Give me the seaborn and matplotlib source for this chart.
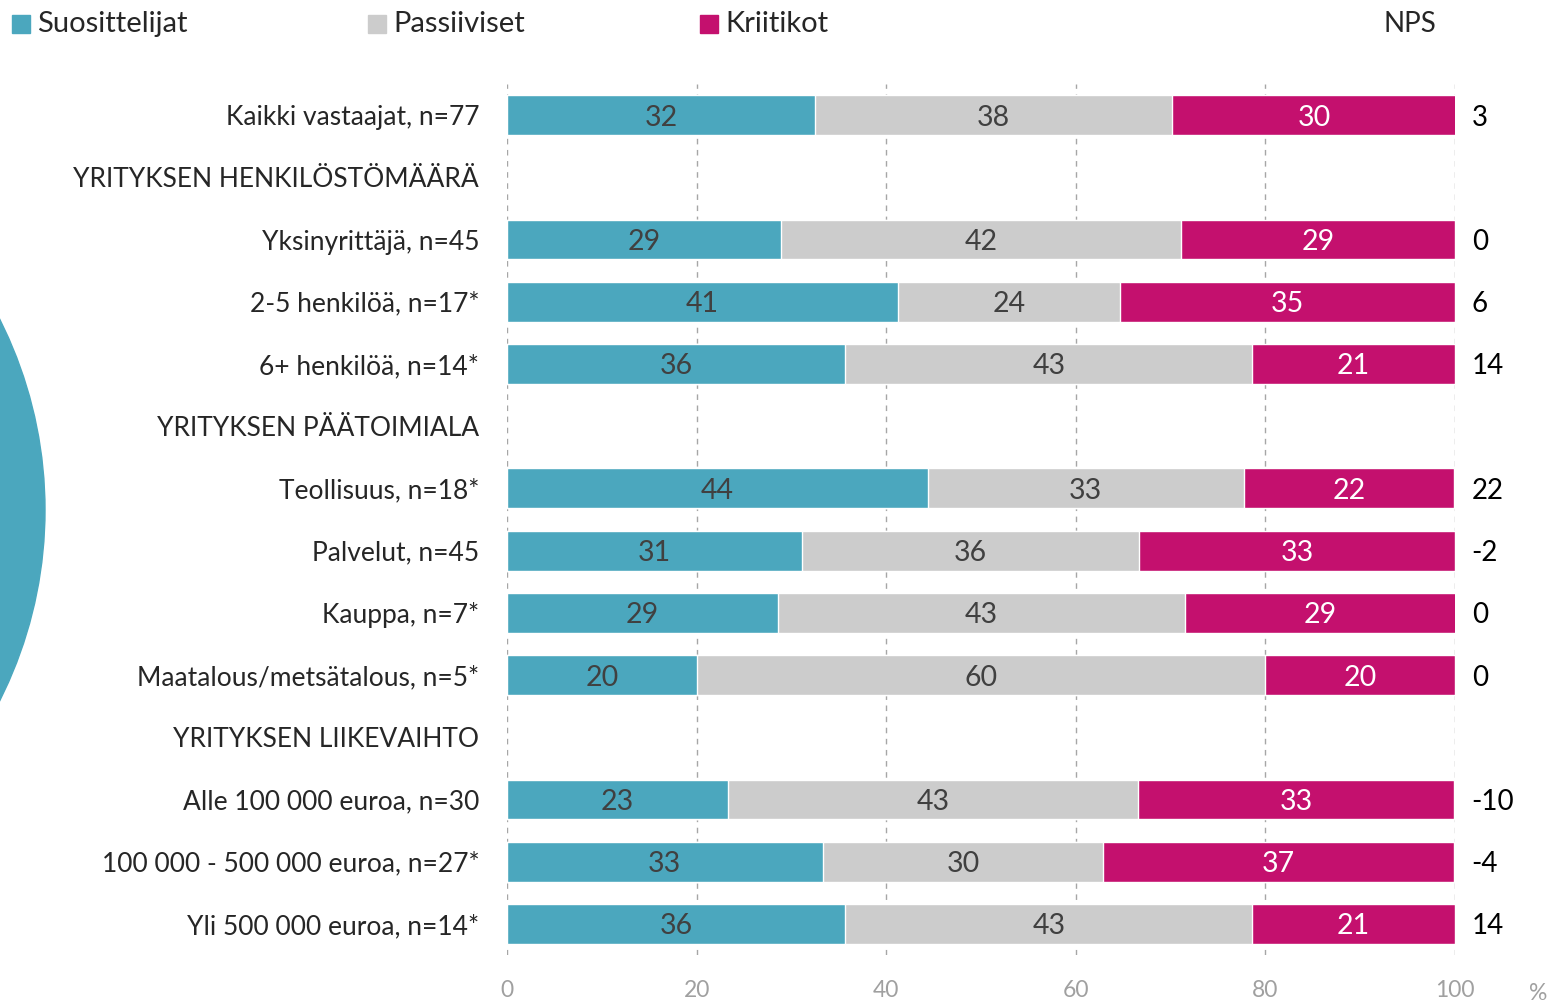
import numpy as np
import pandas as pd
import seaborn as sns
import matplotlib
matplotlib.use("Agg")
import matplotlib.pyplot as plt
from matplotlib.patches import Circle, Rectangle
from matplotlib.transforms import IdentityTransform

## Data
rows = [
    "Kaikki vastaajat, n=77",
    "YRITYKSEN HENKILÖSTÖMÄÄRÄ",
    "Yksinyrittäjä, n=45",
    "2-5 henkilöä, n=17*",
    "6+ henkilöä, n=14*",
    "YRITYKSEN PÄÄTOIMIALA",
    "Teollisuus, n=18*",
    "Palvelut, n=45",
    "Kauppa, n=7*",
    "Maatalous/metsätalous, n=5*",
    "YRITYKSEN LIIKEVAIHTO",
    "Alle 100 000 euroa, n=30",
    "100 000 - 500 000 euroa, n=27*",
    "Yli 500 000 euroa, n=14*",
]
bar_rows = [r for r in rows if "n=" in r]
promoters = [32.5, 28.9, 41.2, 35.7, 44.4, 31.1, 28.6, 20.0, 23.3, 33.3, 35.7]
passives = [37.7, 42.2, 23.5, 42.9, 33.3, 35.6, 42.9, 60.0, 43.3, 29.6, 42.9]
critics = [29.9, 28.9, 35.3, 21.4, 22.2, 33.3, 28.6, 20.0, 33.3, 37.0, 21.4]
nps = [3, 0, 6, 14, 22, -2, 0, 0, -10, -4, 14]

series = ["Suosittelijat", "Passiiviset", "Kriitikot"]
colors = ["#4BA7BE", "#CCCCCC", "#C4106E"]
label_colors = ["#404040", "#404040", "white"]

df = pd.DataFrame({"row": bar_rows, "p": promoters, "m": passives, "c": critics})
df["pm"] = df["p"] + df["m"]
df["pmc"] = df["pm"] + df["c"]

sns.set_theme(style="white")
plt.rcParams["font.family"] = ["Lato", "DejaVu Sans"]

fig = plt.figure(figsize=(15.51, 10.02), dpi=100)
ax = fig.add_axes([507 / 1551, 1 - 955 / 1002, 948 / 1551, 871 / 1002])

# cumulative overlay for stacking
for col, color in zip(["pmc", "pm", "p"], colors[::-1]):
    sns.barplot(data=df, x=col, y="row", order=rows, color=color, width=0.64,
                saturation=1, ax=ax, zorder=3)

# segment labels
for _, r in df.iterrows():
    yi = rows.index(r["row"])
    lefts = [0, r["p"], r["pm"]]
    widths = [r["p"], r["m"], r["c"]]
    for left, w, lc in zip(lefts, widths, label_colors):
        ax.text(left + w / 2, yi, f"{round(w):.0f}", ha="center",
                va="center_baseline", color=lc, fontsize=20.5, zorder=4)

for name, v in zip(bar_rows, nps):
    ax.annotate(str(v), xy=(100, rows.index(name)), xytext=(12, 0),
                textcoords="offset points", ha="left", va="center_baseline",
                fontsize=20, color="black", annotation_clip=False)

ax.set_xlim(0, 100)
ax.set_ylim(len(rows) - 0.5, -0.5)
ax.set_xticks([0, 20, 40, 60, 80, 100])
ax.set_xlabel("")
ax.set_ylabel("")
for x in [0, 20, 40, 60, 80, 100]:
    ax.axvline(x, color="#A6A6A6", lw=1, ls=(0, (4, 4)), zorder=1)
ax.tick_params(axis="x", length=0, pad=18, labelsize=16.5, labelcolor="#A0A0A0")
ax.tick_params(axis="y", length=0, pad=20, labelsize=19, labelcolor="#262626")
sns.despine(ax=ax, left=True, bottom=True)

fig.text(1538 / 1551, 1 - 993 / 1002, "%", ha="center", va="center",
         fontsize=16.5, color="#A0A0A0")
fig.text(1410 / 1551, 1 - 24 / 1002, "NPS", ha="center", va="center",
         fontsize=20, color="#262626")

# legend
for x0, name, color in zip([12, 368, 700], series, colors):
    fig.add_artist(Rectangle((x0 / 1551, 1 - 33 / 1002), 18 / 1551, 18 / 1002,
                             transform=fig.transFigure, color=color))
    fig.text((x0 + 25) / 1551, 1 - 24 / 1002, name, ha="left", va="center",
             fontsize=21, color="#262626")

# decorative circle at the left edge
fig.add_artist(Circle((-379, 1002 - 510), 424, transform=IdentityTransform(),
                      color=colors[0], zorder=0))

fig.savefig("out.png", dpi=100)
